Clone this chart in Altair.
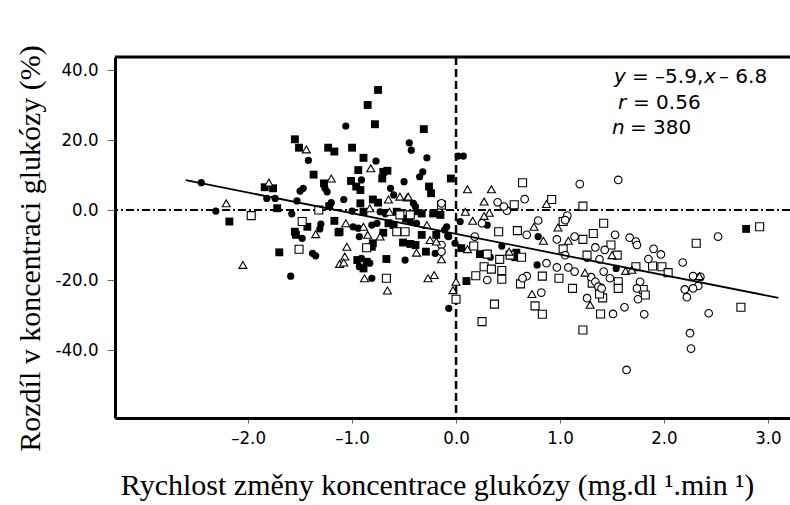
import altair as alt
import pandas as pd

# ---- data ----
fs_x = [-1.55, -1.51, -1.23, -1.17, -1.37, -1.27, -1.84, -1.76, -1.72, -2.18, -1.22, -1.43, -1.17, -1.55, -1.54, -1.13, -1.70,
        -0.75, -0.85, -0.78, -0.31, -1.00, -0.89, -0.70, -0.66, -0.71, -0.94, -0.05, -1.01, -0.96, -0.92, -0.26, -0.24, -0.80,
        -0.75, -0.92, -0.89, -0.57, -0.33, -0.22, -0.15, -0.65, -0.60, -1.12, -0.80, -0.81, -0.51, -0.44, -0.39, -0.33, -0.19,
        -0.29, 0.05, -0.95, -0.86, -0.89, -0.67, 0.10, 0.23, 0.58, 0.57, 2.79, -0.48, -0.70]
fs_y = [20.2, 17.8, 17.8, 16.7, 10.1, 7.6, 6.5, 6.2, 0.5, -3.3, 1.1, -4.8, -3.1, -6.2, -7.1, -6.4, -12.1,
        34.3, 30.0, 24.5, 23.1, 17.8, 14.9, 10.9, 11.2, 9.0, 11.4, 9.0, 8.3, 6.7, 5.7, 6.7, 4.8, 3.0,
        2.1, 1.9, -0.5, -0.5, -1.0, -1.0, -1.4, -3.8, -4.3, -6.2, -9.5, -10.5, -9.3, -9.7, -10.0, -7.1, -7.1,
        -11.9, -10.9, -14.3, -14.8, -16.7, -14.0, -20.3, -12.6, -12.2, -13.5, -5.4, -2.5, -6.5]

fc_x = [-1.42, -1.26, -1.24, -1.50, -1.47, -2.45, -1.82, -1.74, -1.53, -1.20, -2.31, -1.58, -1.30, -1.31, -1.48, -1.38, -1.35,
        -1.59, -1.06, -0.45, -0.43, -0.77, -0.28, 0.02, 0.07, -0.32, -0.35, -0.91, -0.50, -0.63, -0.60, -1.08, -1.00, -0.73,
        -0.68, -0.39, -0.99, -0.94, -0.81, -0.76, -0.44, -0.38, -0.09, -0.93, -0.07, -0.01, -0.20, -0.91, -0.83, -0.93, -0.49,
        -0.81, -0.07, 0.04, 0.30, 0.79, 1.26, 1.54, 0.33, 0.44, 0.78, -0.11, -0.08, -0.41, -0.39]
fc_y = [14.2, 6.2, 5.2, 5.4, 6.2, 7.8, 3.3, 3.3, 2.6, 2.1, -0.3, -1.1, -4.0, -5.4, -8.1, -12.4, -13.1,
        -18.9, 24.0, 19.2, 17.1, 14.0, 14.9, 15.4, 15.4, 10.9, 9.5, 8.6, 8.1, 6.2, 4.3, 3.0, -0.3, -0.5,
        -1.1, -0.5, -4.8, -5.2, -4.3, -3.8, -3.3, -3.8, -4.8, -7.6, -7.6, -9.5, -12.4, -13.8, -15.2, -16.2, -14.3,
        -19.5, -28.1, -3.3, -4.3, -7.6, -13.8, -16.7, -13.5, -10.3, -15.7, -5.7, -7.4, 1.9, 1.0]

ot_x = [-1.44, -1.20, -1.80, -2.21, -1.35, -2.05, -1.12, -0.82, 0.11, -0.47, -0.65, -0.83, -0.64, 0.09, -1.06, -0.89, -0.28,
        -0.85, -0.73, -0.25, -0.19, -0.38, -0.14, -1.05, -1.07, -1.08, -0.88, -0.66, -0.27, -0.21, 0.00, -0.03,
        0.34, 0.27, 0.87, 0.32, 0.27, 0.16, 0.75, 0.84, 0.98, 1.08, 1.50, 0.11, 1.24, 0.73, 1.63, 1.69, 2.34, -0.54, -0.46,
        0.51, 1.29]
ot_y = [17.3, 9.0, 7.8, 1.9, -6.9, -15.7, -15.4, 11.9, 5.9, 3.6, 3.0, 0.5, -0.5, -0.5, -3.8, -4.8, -4.3,
        -7.1, -7.6, -8.6, -9.0, -12.2, -14.1, -10.5, -13.3, -15.0, -19.5, -23.0, -19.5, -18.6, -20.5, -22.9,
        5.9, 2.4, 1.7, -0.8, -1.7, -3.1, -4.8, -8.8, -5.0, -8.8, -12.9, -11.2, -17.9, -24.0, -17.4, -17.1, -18.9, 3.8, 3.8,
        -11.9, -27.1]

os_x = [-1.97, -1.32, -1.48, -1.51, -0.14, -0.54, -0.44, -0.57, -0.49, -0.86, -0.67, 0.00,
        0.64, 0.56, 0.92, 1.22, 0.41, 0.59, 1.03, 1.42, 1.22, 1.32, 1.49, 1.03, 1.26, 0.17, 0.30, 0.42, 0.52, 0.63,
        0.27, 0.34, 0.44, 0.44, 0.83, 0.62, 0.99, 1.12, 0.37, 0.76, 0.83, 0.25, 1.41, 1.39, 1.22,
        2.92, 2.31, 1.55, 1.89, 1.98, 2.04, 1.73, 1.56, 1.56, 1.80, 1.82, 2.74, 1.31, 1.38, 1.38, 0.19]
os_y = [-1.6, 0.0, -3.3, -11.2, 1.4, -1.4, -1.4, -6.2, -6.2, -10.8, -19.5, -25.5,
        7.8, 1.5, 3.0, 1.1, -6.2, -5.9, -3.3, -3.8, -8.4, -6.7, -10.0, -11.1, -12.9, -10.3, -12.6, -14.1, -12.9, -13.5,
        -16.2, -16.9, -17.3, -19.8, -18.9, -21.1, -19.5, -22.4, -26.9, -27.4, -29.8, -31.9, -25.1, -29.7, -34.3,
        -4.8, -9.5, -12.9, -16.0, -16.2, -17.9, -16.2, -20.5, -22.4, -22.7, -24.3, -27.8, -20.9, -22.4, -24.0, -18.8]

oc_x = [0.18, 1.19, 1.56, 0.40, 0.66, 0.49, -0.14, 0.25, 0.79, 0.68, 1.06, 0.97, 1.14, 1.53, 1.34, 1.43, 1.05, 1.38,
        0.30, 0.87, 0.68, 0.64, 0.97, 1.08, 1.14, 1.30, 1.34, 1.37, 1.40, 0.82, 1.26, 1.51, -0.14, -0.14,
        2.52, 1.67, 1.73, 1.74, 1.90, 1.97, 1.85, 2.18, 1.42, 1.48, 1.77, 1.74, 1.75, 2.28, 2.35, 2.33, 2.28, 2.20, 2.22,
        1.62, 1.81, 2.43, 2.25, 2.26, 1.64, 1.07, 1.05, 0.46]
oc_y = [-7.6, 7.4, 8.6, 2.2, 3.1, -0.2, 1.9, -3.8, -3.0, -7.1, -2.4, -8.4, -7.6, -7.1, -10.7, -11.4, -12.9, -14.1,
        -20.0, -15.2, -18.9, -19.5, -16.4, -16.4, -17.6, -19.2, -20.5, -21.9, -22.4, -23.6, -25.2, -29.7, -10.0, -11.9,
        -7.6, -7.9, -9.0, -10.0, -11.1, -12.7, -14.0, -15.0, -17.6, -19.5, -20.5, -22.4, -25.5, -18.9, -19.1, -21.7, -22.4, -22.7, -24.9,
        -27.8, -29.8, -29.5, -35.2, -39.6, -45.7, -1.6, -2.9, 1.0]

reg_x = [-2.6, 3.1]
reg_y = [8.5, -25.1]

x_ticks = [-2, -1, 0, 1, 2, 3]
y_ticks = [40, 20, 0, -20, -40]
x_domain = [-3.28, 3.212]
y_domain = [-59.43, 43.71]

x_title = "Rychlost změny koncentrace glukózy (mg.dl \u00b9.min \u00b9)"
y_title = "Rozdíl v koncentraci glukózy (%)"

W, H = 675, 361
LABEL_FONT = "DejaVu Sans Condensed"
TITLE_FONT = "Liberation Serif"


def frame(name, xs, ys):
    return pd.DataFrame({"x": xs, "y": ys, "g": name})


xscale = alt.Scale(domain=x_domain, nice=False, zero=False)
yscale = alt.Scale(domain=y_domain, nice=False, zero=False)

xaxis = alt.Axis(values=x_ticks, grid=False,
                 labelExpr="(datum.value < 0 ? '\u2013' : '') + format(abs(datum.value), '.1f')",
                 labelFont=LABEL_FONT, labelFontSize=18.5, labelColor="black", labelPadding=5,
                 domainColor="black", domainWidth=3, tickColor="#666", tickWidth=1, tickSize=5,
                 title=x_title, titleFont=TITLE_FONT, titleFontSize=30, titleFontWeight="normal",
                 titleColor="black", titleX=322, titleY=76, titleBaseline="alphabetic")
yaxis = alt.Axis(values=y_ticks, grid=False,
                 labelExpr="(datum.value < 0 ? '-' : '') + format(abs(datum.value), '.1f')",
                 labelFont=LABEL_FONT, labelFontSize=18.5, labelColor="black", labelPadding=9,
                 domainColor="black", domainWidth=3, tickColor="#666", tickWidth=1, tickSize=8,
                 title=y_title, titleFont=TITLE_FONT, titleFontSize=30, titleFontWeight="normal",
                 titleColor="black", titleX=-76, titleY=191, titleBaseline="alphabetic")


def enc(ch):
    return ch.encode(x=alt.X("x:Q", scale=xscale, axis=xaxis),
                     y=alt.Y("y:Q", scale=yscale, axis=yaxis))


one = pd.DataFrame({"k": [0]})

hline = alt.Chart(one).mark_rule(color="black", strokeWidth=2, strokeDash=[8, 3, 2, 3]).encode(
    y=alt.datum(0, scale=yscale))
vline = alt.Chart(one).mark_rule(color="black", strokeWidth=2.5, strokeDash=[8, 4]).encode(
    x=alt.datum(0, scale=xscale))

fs = enc(alt.Chart(frame("fs", fs_x, fs_y)).mark_point(shape="square", filled=True, color="black", size=62, opacity=1))
fc = enc(alt.Chart(frame("fc", fc_x, fc_y)).mark_point(shape="circle", filled=True, color="black", size=52, opacity=1))
os_ = enc(alt.Chart(frame("os", os_x, os_y)).mark_point(shape="square", fill="white", stroke="black", strokeWidth=1.1,
                                                        size=64, opacity=1, fillOpacity=1))
oc = enc(alt.Chart(frame("oc", oc_x, oc_y)).mark_point(shape="circle", fill="white", stroke="black", strokeWidth=1.1,
                                                       size=58, opacity=1, fillOpacity=1))
ot = enc(alt.Chart(frame("ot", ot_x, ot_y)).mark_point(shape="triangle-up", fill="white", stroke="black", strokeWidth=1.1,
                                                       size=64, opacity=1, fillOpacity=1))
reg = enc(alt.Chart(pd.DataFrame({"x": reg_x, "y": reg_y})).mark_line(color="black", strokeWidth=1.8))

top = alt.Chart(one).mark_rule(color="black", strokeWidth=3).encode(
    x=alt.value(0), x2=alt.value(W + 5), y=alt.value(0))


def txt(s, px, py, italic=False):
    return alt.Chart(one).mark_text(text=s, align="left", baseline="alphabetic", font="DejaVu Sans",
                                    fontSize=20, fontStyle="italic" if italic else "normal",
                                    color="black").encode(x=alt.value(px), y=alt.value(py))


texts = [
    txt("y", 499, 26, True), txt("= \u20135.9,", 517, 26), txt("x", 589, 26, True), txt("\u2013 6.8", 604, 26),
    txt("r", 503, 52, True), txt("= 0.56", 518, 52),
    txt("n", 497, 77, True), txt("= 380", 515, 77),
]

chart = alt.layer(hline, vline, fs, fc, os_, oc, ot, reg, top, *texts).properties(
    width=W, height=H,
    padding={"left": 115, "top": 57, "right": 0, "bottom": 87},
    autosize=alt.AutoSizeParams(type="none"),
    background="white",
).configure_view(stroke=None)

chart.save("out.html", embed_options={"renderer": "svg", "actions": False})
